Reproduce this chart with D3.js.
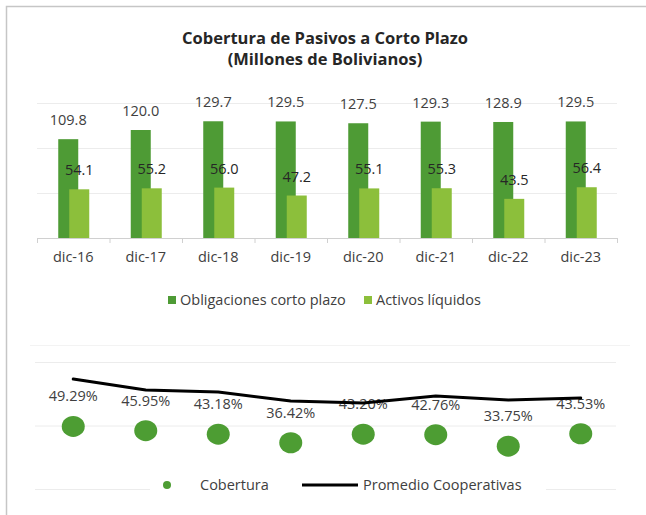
<!DOCTYPE html>
<html>
<head>
<meta charset="utf-8">
<script src="https://cdn.jsdelivr.net/npm/d3@7"></script>
<style>
  body { margin: 0; background: #fff; }
  svg { font-family: "Open Sans", sans-serif; }
</style>
</head>
<body>
<svg id="chart" width="646" height="515"></svg>
<script>
// data
var categories = ["dic-16", "dic-17", "dic-18", "dic-19", "dic-20", "dic-21", "dic-22", "dic-23"];
var obligaciones = [109.8, 120.0, 129.7, 129.5, 127.5, 129.3, 128.9, 129.5];
var activos = [54.1, 55.2, 56.0, 47.2, 55.1, 55.3, 43.5, 56.4];
var cobertura = [49.29, 45.95, 43.18, 36.42, 43.20, 42.76, 33.75, 43.53];
var promedio = [86.6, 78.0, 76.4, 69.3, 67.7, 73.2, 70.1, 71.7];
var barTicks = [0, 50, 100, 150];
var pctTicks = [0, 50, 100];

var svg = d3.select("#chart");
var darkGreen = "#4e9b35", lightGreen = "#8cbf3b", textCol = "#404040";

// outer frame
svg.append("path")
    .attr("d", "M6.5,515 L6.5,6.5 L646,6.5")
    .attr("fill", "none")
    .attr("stroke", "#c6c6c6")
    .attr("stroke-width", 1.5);

// title
var title = svg.append("text")
    .attr("x", 325)
    .attr("text-anchor", "middle")
    .style("font-weight", "bold")
    .style("font-size", "16.5px")
    .attr("fill", "#262626");
title.append("tspan").attr("x", 325).attr("y", 44).text("Cobertura de Pasivos a Corto Plazo");
title.append("tspan").attr("x", 325).attr("y", 65).text("(Millones de Bolivianos)");

// top chart scales
var x = d3.scaleBand().domain(categories).range([37, 617]);
var y = d3.scaleLinear().domain([0, 150]).range([238, 103]);

// gridlines
svg.append("g")
  .selectAll("line")
  .data(barTicks.slice(1))
  .join("line")
    .attr("x1", 37).attr("x2", 617)
    .attr("y1", function(d) { return y(d) + 0.5; })
    .attr("y2", function(d) { return y(d) + 0.5; })
    .attr("stroke", "#ececec");

// x axis
var xAxis = svg.append("g")
    .attr("transform", "translate(0," + y(0) + ")")
    .call(d3.axisBottom(x).tickSize(0).tickPadding(14));
xAxis.select(".domain").attr("stroke", "#d0d0d0");
xAxis.selectAll("text")
    .style("font-size", "14.5px")
    .style("font-family", "Open Sans")
    .attr("fill", textCol);
// category boundary ticks
xAxis.selectAll(".sep")
  .data(categories.concat(["end"]))
  .join("line")
    .attr("class", "sep")
    .attr("x1", function(d, i) { return 37 + i * x.step() + 0.5; })
    .attr("x2", function(d, i) { return 37 + i * x.step() + 0.5; })
    .attr("y1", 0).attr("y2", 5)
    .attr("stroke", "#d0d0d0");

var cx = function(d) { return x(d) + x.bandwidth() / 2; };

// bars
svg.append("g").selectAll("rect")
  .data(categories)
  .join("rect")
    .attr("x", function(d) { return cx(d) - 15; })
    .attr("y", function(d, i) { return y(obligaciones[i]); })
    .attr("width", 20)
    .attr("height", function(d, i) { return y(0) - y(obligaciones[i]); })
    .attr("fill", darkGreen);

svg.append("g").selectAll("rect")
  .data(categories)
  .join("rect")
    .attr("x", function(d) { return cx(d) - 4; })
    .attr("y", function(d, i) { return y(activos[i]); })
    .attr("width", 20)
    .attr("height", function(d, i) { return y(0) - y(activos[i]); })
    .attr("fill", lightGreen);

// bar labels
svg.append("g").selectAll("text")
  .data(categories)
  .join("text")
    .attr("x", function(d) { return cx(d) - 5; })
    .attr("y", function(d, i) { return y(obligaciones[i]) - 14; })
    .attr("text-anchor", "middle")
    .style("font-size", "14.5px")
    .attr("fill", textCol)
    .text(function(d, i) { return obligaciones[i].toFixed(1); });

svg.append("g").selectAll("text")
  .data(categories)
  .join("text")
    .attr("x", function(d) { return cx(d) + 6; })
    .attr("y", function(d, i) { return y(activos[i]) - 14; })
    .attr("text-anchor", "middle")
    .style("font-size", "14.5px")
    .attr("fill", "#262626")
    .text(function(d, i) { return activos[i].toFixed(1); });

// top legend
var legend1 = svg.append("g").attr("transform", "translate(0,300)");
[["Obligaciones corto plazo", darkGreen, 168], ["Activos líquidos", lightGreen, 364]].forEach(function(l) {
  legend1.append("rect").attr("x", l[2]).attr("y", -4).attr("width", 8).attr("height", 8).attr("fill", l[1]);
  legend1.append("text").attr("x", l[2] + 12).attr("y", 5)
    .style("font-size", "14.5px").attr("fill", textCol).text(l[0]);
});

// separator between charts
svg.append("line")
    .attr("x1", 30).attr("x2", 630).attr("y1", 345.5).attr("y2", 345.5)
    .attr("stroke", "#f3f3f3");

// bottom chart
var y2 = d3.scaleLinear().domain([0, 100]).range([489, 362]);

svg.append("g").selectAll("line")
  .data(pctTicks)
  .join("line")
    .attr("x1", 35).attr("x2", 616)
    .attr("y1", function(d) { return y2(d) + 0.5; })
    .attr("y2", function(d) { return y2(d) + 0.5; })
    .attr("stroke", "#ececec");

// dots
svg.append("g").selectAll("ellipse")
  .data(categories)
  .join("ellipse")
    .attr("cx", cx)
    .attr("cy", function(d, i) { return y2(cobertura[i]); })
    .attr("rx", 11.5).attr("ry", 10.5)
    .attr("fill", "#4d9d33");

// dot labels
svg.append("g").selectAll("text")
  .data(categories)
  .join("text")
    .attr("x", cx)
    .attr("y", function(d, i) { return y2(cobertura[i]) - 25; })
    .attr("text-anchor", "middle")
    .style("font-size", "14.5px")
    .attr("fill", textCol)
    .text(function(d, i) { return cobertura[i].toFixed(2) + "%"; });

// promedio line
var line = d3.line()
    .x(function(d, i) { return cx(categories[i]); })
    .y(function(d) { return y2(d); });
svg.append("path")
    .datum(promedio)
    .attr("d", line)
    .attr("fill", "none")
    .attr("stroke", "#000")
    .attr("stroke-width", 3)
    .attr("stroke-linejoin", "round")
    .attr("stroke-linecap", "round");

// bottom legend
var legend2 = svg.append("g").attr("transform", "translate(0,485)");
legend2.append("rect").attr("x", 150).attr("y", -8).attr("width", 396).attr("height", 16).attr("fill", "#fff");
legend2.append("circle").attr("cx", 167).attr("cy", 0).attr("r", 4).attr("fill", "#4d9d33");
legend2.append("text").attr("x", 200).attr("y", 5).style("font-size", "14.5px").attr("fill", textCol).text("Cobertura");
legend2.append("line").attr("x1", 302).attr("x2", 358).attr("y1", 0).attr("y2", 0)
    .attr("stroke", "#000").attr("stroke-width", 3);
legend2.append("text").attr("x", 363).attr("y", 5).style("font-size", "14.5px").attr("fill", textCol).text("Promedio Cooperativas");
</script>
</body>
</html>
